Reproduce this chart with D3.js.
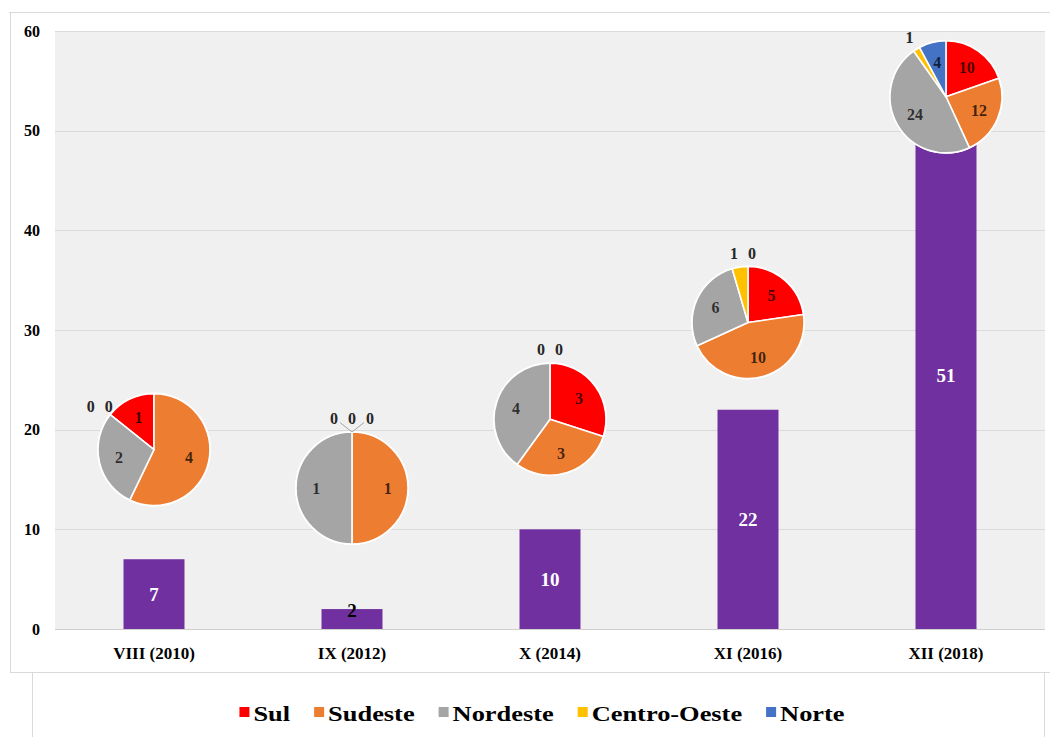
<!DOCTYPE html>
<html>
<head>
<meta charset="utf-8">
<script src="https://cdn.jsdelivr.net/npm/d3@7"></script>
<style>
  body { margin: 0; background: #ffffff; }
  svg { display: block; }
  text { font-family: "Liberation Serif", "Times New Roman", serif; font-weight: bold; }
</style>
</head>
<body>
<svg id="chart" width="1050" height="737"></svg>
<script>
// Editions and total papers per edition
const editions = ["VIII (2010)", "IX (2012)", "X (2014)", "XI (2016)", "XII (2018)"];
const totals = [7, 2, 10, 22, 51];

// Breakdown by region for each edition
const regions = ["Sul", "Sudeste", "Nordeste", "Centro-Oeste", "Norte"];
const sul = [1, 0, 3, 5, 10];
const sudeste = [4, 1, 3, 10, 12];
const nordeste = [2, 1, 4, 6, 24];
const centroOeste = [0, 0, 0, 1, 1];
const norte = [0, 0, 0, 0, 4];
const regionSeries = [sul, sudeste, nordeste, centroOeste, norte];

const yTicks = [0, 10, 20, 30, 40, 50, 60];

// Placement of each pie: vertical anchor in axis units and its first-slice rotation
const pieAnchor = [18, 14.15, 21.05, 30.75, 53.4];
const pieRotationDeg = [-51.43, 0, 0, 0, 0];

const regionColors = ["#FF0000", "#ED7D31", "#A5A5A5", "#FFC000", "#4472C4"];
const barColor = "#7030A0";

const svg = d3.select("#chart");

// Outer frame lines
const frame = svg.append("g").attr("stroke", "#d9d9d9").attr("fill", "none");
frame.append("line").attr("x1", 9).attr("x2", 1050).attr("y1", 12.5).attr("y2", 12.5);
frame.append("line").attr("x1", 10.5).attr("x2", 10.5).attr("y1", 12).attr("y2", 673);
frame.append("line").attr("x1", 10).attr("x2", 1050).attr("y1", 672.5).attr("y2", 672.5);
frame.append("line").attr("x1", 32.5).attr("x2", 32.5).attr("y1", 673).attr("y2", 737);
frame.append("line").attr("x1", 1044.5).attr("x2", 1044.5).attr("y1", 673).attr("y2", 737);

const plot = { left: 55, right: 1045, top: 31, bottom: 629 };

const x = d3.scaleBand()
  .domain(editions)
  .range([plot.left, plot.right])
  .paddingInner(0.692)
  .paddingOuter(0.346);

const y = d3.scaleLinear().domain([0, 60]).range([plot.bottom, plot.top]);

// Plot background
svg.append("rect")
  .attr("x", plot.left).attr("y", plot.top)
  .attr("width", plot.right - plot.left).attr("height", plot.bottom - plot.top)
  .attr("fill", "#f0f0f0");

// Gridlines
svg.append("g").selectAll("line")
  .data(yTicks)
  .join("line")
  .attr("x1", plot.left).attr("x2", plot.right)
  .attr("y1", d => Math.round(y(d)) + 0.5).attr("y2", d => Math.round(y(d)) + 0.5)
  .attr("stroke", d => d === 0 ? "#cfcfcf" : "#dadada")
  .attr("stroke-width", 1);

// Y axis labels
const yAxis = d3.axisLeft(y).tickValues(yTicks).tickSize(0).tickPadding(0);
const yg = svg.append("g").attr("transform", "translate(40,0)").call(yAxis);
yg.select(".domain").remove();
yg.selectAll("text")
  .attr("font-size", 16).attr("fill", "#000")
  .style("font-family", "'Liberation Serif', serif").style("font-weight", "bold");

// X axis labels
const xAxis = d3.axisBottom(x).tickSize(0).tickPadding(0);
const xg = svg.append("g").attr("transform", "translate(0,647)").call(xAxis);
xg.select(".domain").remove();
xg.selectAll("text")
  .attr("font-size", 17).attr("fill", "#000")
  .style("font-family", "'Liberation Serif', serif").style("font-weight", "bold");

// Bars
const rows = editions.map((e, i) => ({ edition: e, total: totals[i], idx: i }));
svg.append("g").selectAll("rect")
  .data(rows)
  .join("rect")
  .attr("x", d => x(d.edition))
  .attr("y", d => y(d.total))
  .attr("width", x.bandwidth())
  .attr("height", d => y(0) - y(d.total))
  .attr("fill", barColor);

// Bar value labels
svg.append("g").selectAll("text")
  .data(rows)
  .join("text")
  .attr("x", d => x(d.edition) + x.bandwidth() / 2)
  .attr("y", d => {
    const h = y(0) - y(d.total);
    return h < 28 ? y(d.total) + 1 : (y(d.total) + y(0)) / 2;
  })
  .attr("dy", "0.35em")
  .attr("text-anchor", "middle")
  .attr("font-size", 19)
  .attr("fill", d => (y(0) - y(d.total)) < 28 ? "#000" : "#fff")
  .text(d => d.total);

// Pies
const R = 56;
const arc = d3.arc().innerRadius(0).outerRadius(R);

rows.forEach(row => {
  const i = row.idx;
  const cx = x(row.edition) + x.bandwidth() / 2;
  const cy = y(pieAnchor[i]);
  const rot = pieRotationDeg[i] * Math.PI / 180;
  const slices = regions.map((r, k) => ({ region: r, k, v: regionSeries[k][i] }));
  const total = d3.sum(slices, s => s.v);
  const arcs = d3.pie().sort(null).value(d => d.v)
    .startAngle(rot).endAngle(rot + 2 * Math.PI)(slices);

  const g = svg.append("g").attr("transform", `translate(${cx},${cy})`);

  g.append("circle").attr("r", R + 1).attr("fill", "#fff");

  g.selectAll("path")
    .data(arcs.filter(a => a.data.v > 0))
    .join("path")
    .attr("d", arc)
    .attr("fill", a => regionColors[a.data.k])
    .attr("stroke", "#fff")
    .attr("stroke-width", 1.6)
    .attr("stroke-linejoin", "round");

  // Slice labels: inside for large slices, outside for small/zero ones
  const inside = [];
  const outside = [];
  arcs.forEach(a => {
    const mid = (a.startAngle + a.endAngle) / 2;
    const share = a.data.v / total;
    if (share >= 0.06) {
      inside.push({ a, x: Math.sin(mid) * R * 0.64, y: -Math.cos(mid) * R * 0.64 });
    } else {
      const ox = Math.sin(mid) * R * 1.24, oy = -Math.cos(mid) * R * 1.24;
      outside.push({ a, mid, nx: ox, ny: oy, x: ox, y: oy });
    }
  });

  // Spread clustered outside labels horizontally
  const groups = [];
  outside.forEach(o => {
    const grp = groups.find(gr => gr.some(p => Math.abs(p.nx - o.nx) < 16 && Math.abs(p.ny - o.ny) < 12));
    if (grp) grp.push(o); else groups.push([o]);
  });
  groups.forEach(gr => {
    const mx = d3.mean(gr, p => p.nx);
    gr.forEach((p, j) => { p.x = mx + (j - (gr.length - 1) / 2) * 18; });
  });

  g.selectAll("text.in")
    .data(inside)
    .join("text")
    .attr("class", "in")
    .attr("x", d => d.x).attr("y", d => d.y)
    .attr("dy", "0.35em")
    .attr("text-anchor", "middle")
    .attr("font-size", 16)
    .attr("fill", "#000").attr("fill-opacity", 0.72)
    .text(d => d.a.data.v);

  g.selectAll("line.leader")
    .data(outside.filter(o => Math.abs(o.x - o.nx) > 12))
    .join("line")
    .attr("class", "leader")
    .attr("x1", d => Math.sin(d.mid) * R).attr("y1", d => -Math.cos(d.mid) * R)
    .attr("x2", d => d.x - Math.sign(d.x - d.nx) * 6).attr("y2", d => d.y + 4)
    .attr("stroke", "#a6a6a6").attr("stroke-width", 1);

  g.selectAll("text.out")
    .data(outside)
    .join("text")
    .attr("class", "out")
    .attr("x", d => d.x).attr("y", d => d.y)
    .attr("dy", "0.35em")
    .attr("text-anchor", "middle")
    .attr("font-size", 16)
    .attr("fill", "#262626")
    .text(d => d.a.data.v);
});

// Legend (labels drawn slightly widened)
const stretch = 1.2;
const legend = svg.append("g").attr("transform", "translate(0,713)");
const items = legend.selectAll("g")
  .data(regions.map((r, k) => ({ r, k })))
  .join("g");
items.append("rect")
  .attr("width", 10).attr("height", 10)
  .attr("y", -6)
  .attr("fill", d => regionColors[d.k]);
items.append("text")
  .attr("transform", `translate(14,0) scale(${stretch},1)`)
  .attr("dy", "0.35em")
  .attr("font-size", 22)
  .attr("fill", "#000")
  .text(d => d.r);
const widths = [];
items.each(function () {
  widths.push(14 + stretch * this.querySelector("text").getComputedTextLength());
});
const gap = 24;
const totalW = d3.sum(widths) + gap * (widths.length - 1);
let start = 542 - totalW / 2;
items.attr("transform", (d, k) => {
  const tx = start;
  start += widths[k] + gap;
  return `translate(${tx},0)`;
});
</script>
</body>
</html>
